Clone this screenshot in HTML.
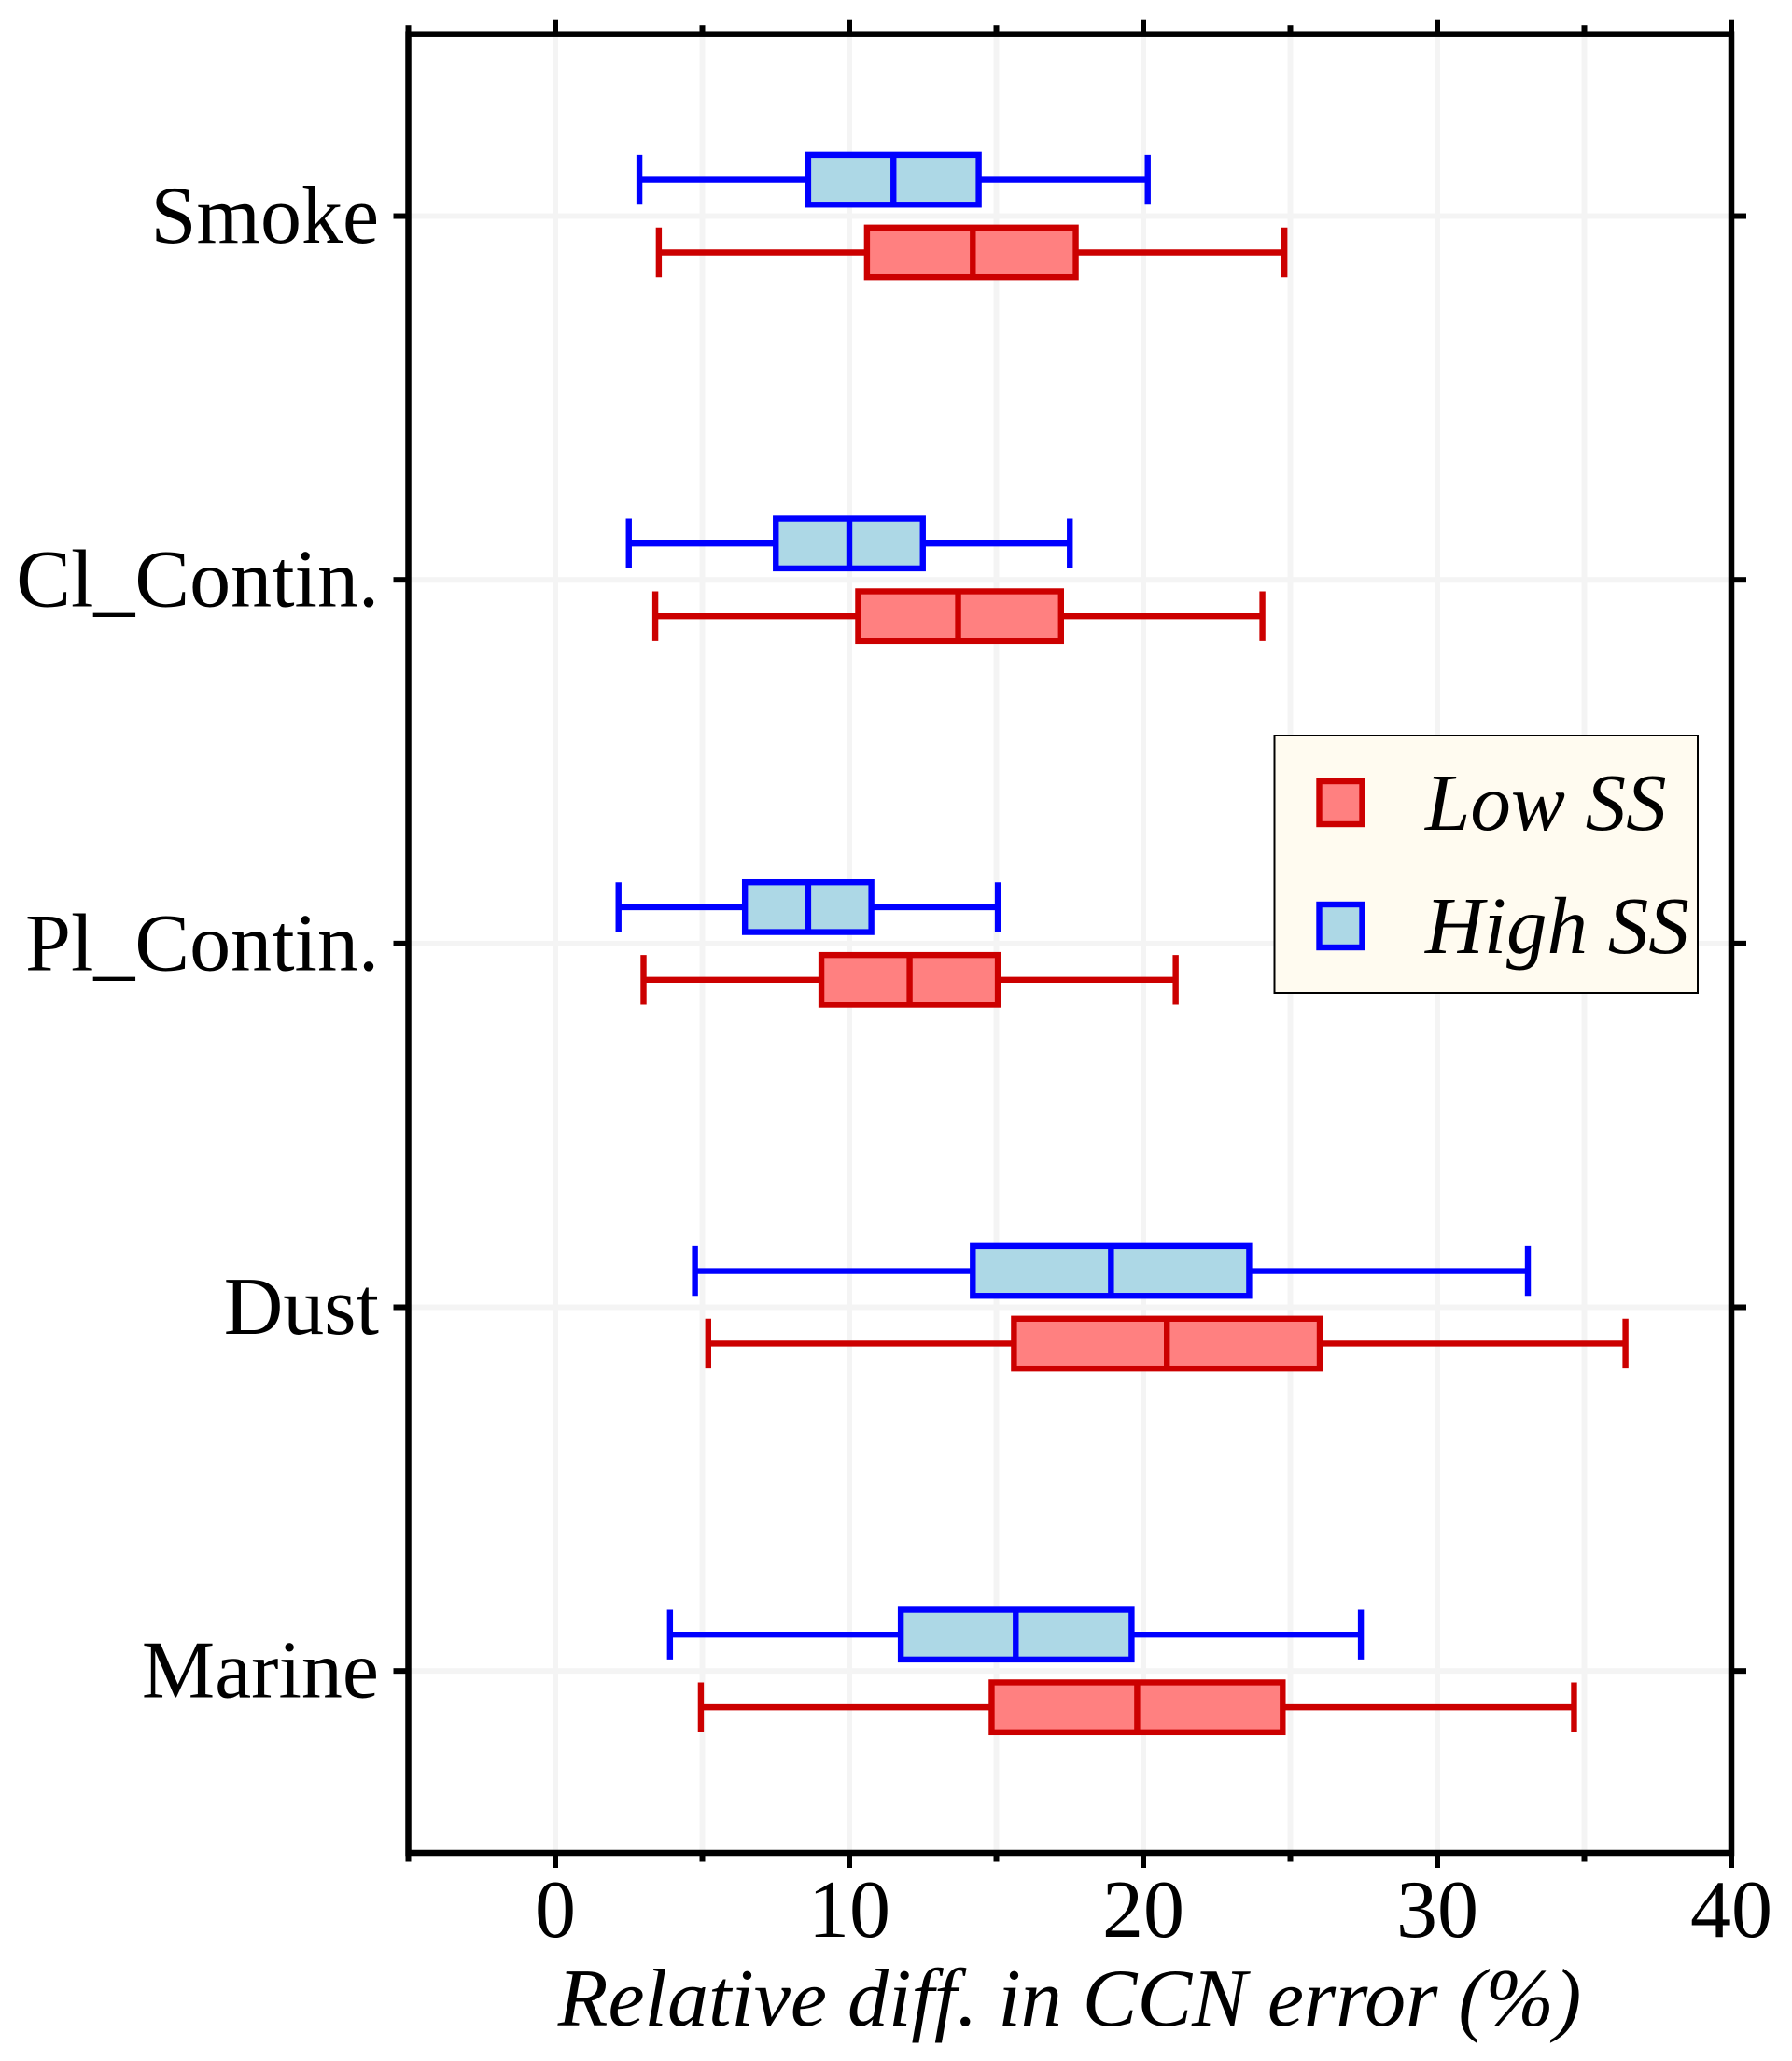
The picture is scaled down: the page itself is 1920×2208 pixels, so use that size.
<!DOCTYPE html>
<html lang="en">
<head>
<meta charset="utf-8">
<title>Relative difference in CCN error</title>
<style>
html,body{margin:0;padding:0;background:#fff;}
svg{display:block;}
text{font-family:"Liberation Serif",serif;fill:#000;}
</style>
</head>
<body>
<svg id="chart" xmlns="http://www.w3.org/2000/svg" width="1920" height="2208" viewBox="0 0 1920 2208"></svg>
<script>
const categories = ["Marine", "Dust", "Pl_Contin.", "Cl_Contin.", "Smoke"];
const lowMin = [4.95, 5.2, 3.0, 3.4, 3.52];
const lowQ1 = [14.84, 15.6, 9.05, 10.3, 10.6];
const lowMedian = [19.79, 20.8, 12.05, 13.7, 14.2];
const lowQ3 = [24.74, 26.0, 15.05, 17.2, 17.7];
const lowMax = [34.65, 36.4, 21.1, 24.05, 24.8];
const highMin = [3.9, 4.75, 2.15, 2.5, 2.86];
const highQ1 = [11.75, 14.2, 6.45, 7.5, 8.6];
const highMedian = [15.66, 18.9, 8.6, 10.0, 11.5];
const highQ3 = [19.6, 23.6, 10.75, 12.5, 14.4];
const highMax = [27.4, 33.08, 15.05, 17.5, 20.15];
const majorTicks = [0, 10, 20, 30, 40];
const minorTicks = [-5, 5, 15, 25, 35];

const NS = "http://www.w3.org/2000/svg";
const svg = document.getElementById("chart");
const plot = {left: 437.5, right: 1855, top: 36.7, bottom: 1985};
const xDomain = [-5, 40];
const yDomain = [-0.5, 4.5];
const xScale = v => plot.left + (v - xDomain[0]) / (xDomain[1] - xDomain[0]) * (plot.right - plot.left);
const yScale = v => plot.bottom - (v - yDomain[0]) / (yDomain[1] - yDomain[0]) * (plot.bottom - plot.top);

function make(tag, attrs, parent) {
  const el = document.createElementNS(NS, tag);
  for (const k in attrs) el.setAttribute(k, attrs[k]);
  (parent || svg).appendChild(el);
  return el;
}
function line(x1, y1, x2, y2, stroke, width, parent) {
  return make("line", {x1, y1, x2, y2, stroke, "stroke-width": width}, parent);
}

const GRID = "#f4f4f4";
const gridW = 6;
const tickW = 6;
const markW = 6.4;

/* grid */
const grid = make("g", {});


majorTicks.concat(minorTicks).forEach(t => {
  const g = line(xScale(t), plot.top, xScale(t), plot.bottom, GRID, gridW, grid);
  
  
});
categories.forEach((c, i) => {
  const g = line(plot.left, yScale(i), plot.right, yScale(i), GRID, gridW, grid);
  
  
});

/* boxes */
function drawBox(i, offset, mins, q1s, meds, q3s, maxs, edge, fill, name) {
  const cy = yScale(i + offset);
  const h = 0.137 * (plot.bottom - plot.top) / (yDomain[1] - yDomain[0]);
  const g = make("g", {});
  
  
  const w1 = line(xScale(mins[i]), cy, xScale(q1s[i]), cy, edge, markW, g);
  
  
  const w2 = line(xScale(q3s[i]), cy, xScale(maxs[i]), cy, edge, markW, g);
  
  
  const c1 = line(xScale(mins[i]), cy - h / 2, xScale(mins[i]), cy + h / 2, edge, markW, g);
  
  
  const c2 = line(xScale(maxs[i]), cy - h / 2, xScale(maxs[i]), cy + h / 2, edge, markW, g);
  
  
  const r = make("rect", {x: xScale(q1s[i]), y: cy - h / 2, width: xScale(q3s[i]) - xScale(q1s[i]), height: h, fill, stroke: edge, "stroke-width": markW}, g);
  
  
  const m = line(xScale(meds[i]), cy - h / 2, xScale(meds[i]), cy + h / 2, edge, markW, g);
  
  
}
categories.forEach((c, i) => {
  drawBox(i, -0.1, lowMin, lowQ1, lowMedian, lowQ3, lowMax, "#cc0000", "#ff8080", "low-ss");
  drawBox(i, 0.1, highMin, highQ1, highMedian, highQ3, highMax, "#0000ff", "#add8e6", "high-ss");
});

/* spines */
const frame = make("rect", {x: plot.left, y: plot.top, width: plot.right - plot.left, height: plot.bottom - plot.top, fill: "none", stroke: "#000", "stroke-width": 6.5});



/* x ticks */
majorTicks.forEach(t => {
  const x = xScale(t);
  const a = line(x, plot.bottom, x, plot.bottom + 16, "#000", tickW);
  
  
  const b = line(x, plot.top, x, plot.top - 16, "#000", tickW);
  
  
  const l = make("text", {x, y: 2075, "text-anchor": "middle", "font-size": 88});
  l.textContent = t;
  
  
});
minorTicks.forEach(t => {
  const x = xScale(t);
  const a = line(x, plot.bottom, x, plot.bottom + 9.5, "#000", tickW);
  
  
  const b = line(x, plot.top, x, plot.top - 9.5, "#000", tickW);
  
  
});

/* y ticks */
categories.forEach((c, i) => {
  const y = yScale(i);
  const a = line(plot.left, y, plot.left - 16, y, "#000", tickW);
  
  
  const b = line(plot.right, y, plot.right + 16, y, "#000", tickW);
  
  
  const l = make("text", {x: 406, y: y + 28.5, "text-anchor": "end", "font-size": 88});
  l.textContent = c;
  
  
});

/* axis title */
const title = make("text", {x: 1146, y: 2170, "text-anchor": "middle", "font-size": 88, "font-style": "italic"});
title.textContent = "Relative diff. in CCN error (%)";



/* legend */
const legend = make("g", {});


const legendBox = make("rect", {x: 1365.5, y: 788, width: 453.5, height: 276, fill: "#fffbf0", stroke: "#000", "stroke-width": 2}, legend);


const legendLabels = ["Low SS", "High SS"];
const legendEdges = ["#cc0000", "#0000ff"];
const legendFills = ["#ff8080", "#add8e6"];
legendLabels.forEach((t, i) => {
  const top = 837 + i * 132;
  const p = make("rect", {x: 1413.5, y: top, width: 46, height: 46, fill: legendFills[i], stroke: legendEdges[i], "stroke-width": 6.4}, legend);
  
  
  const l = make("text", {x: 1527, y: 889 + i * 132, "font-size": 87, "font-style": "italic"}, legend);
  l.textContent = t;
  
  
});
</script>
</body>
</html>
